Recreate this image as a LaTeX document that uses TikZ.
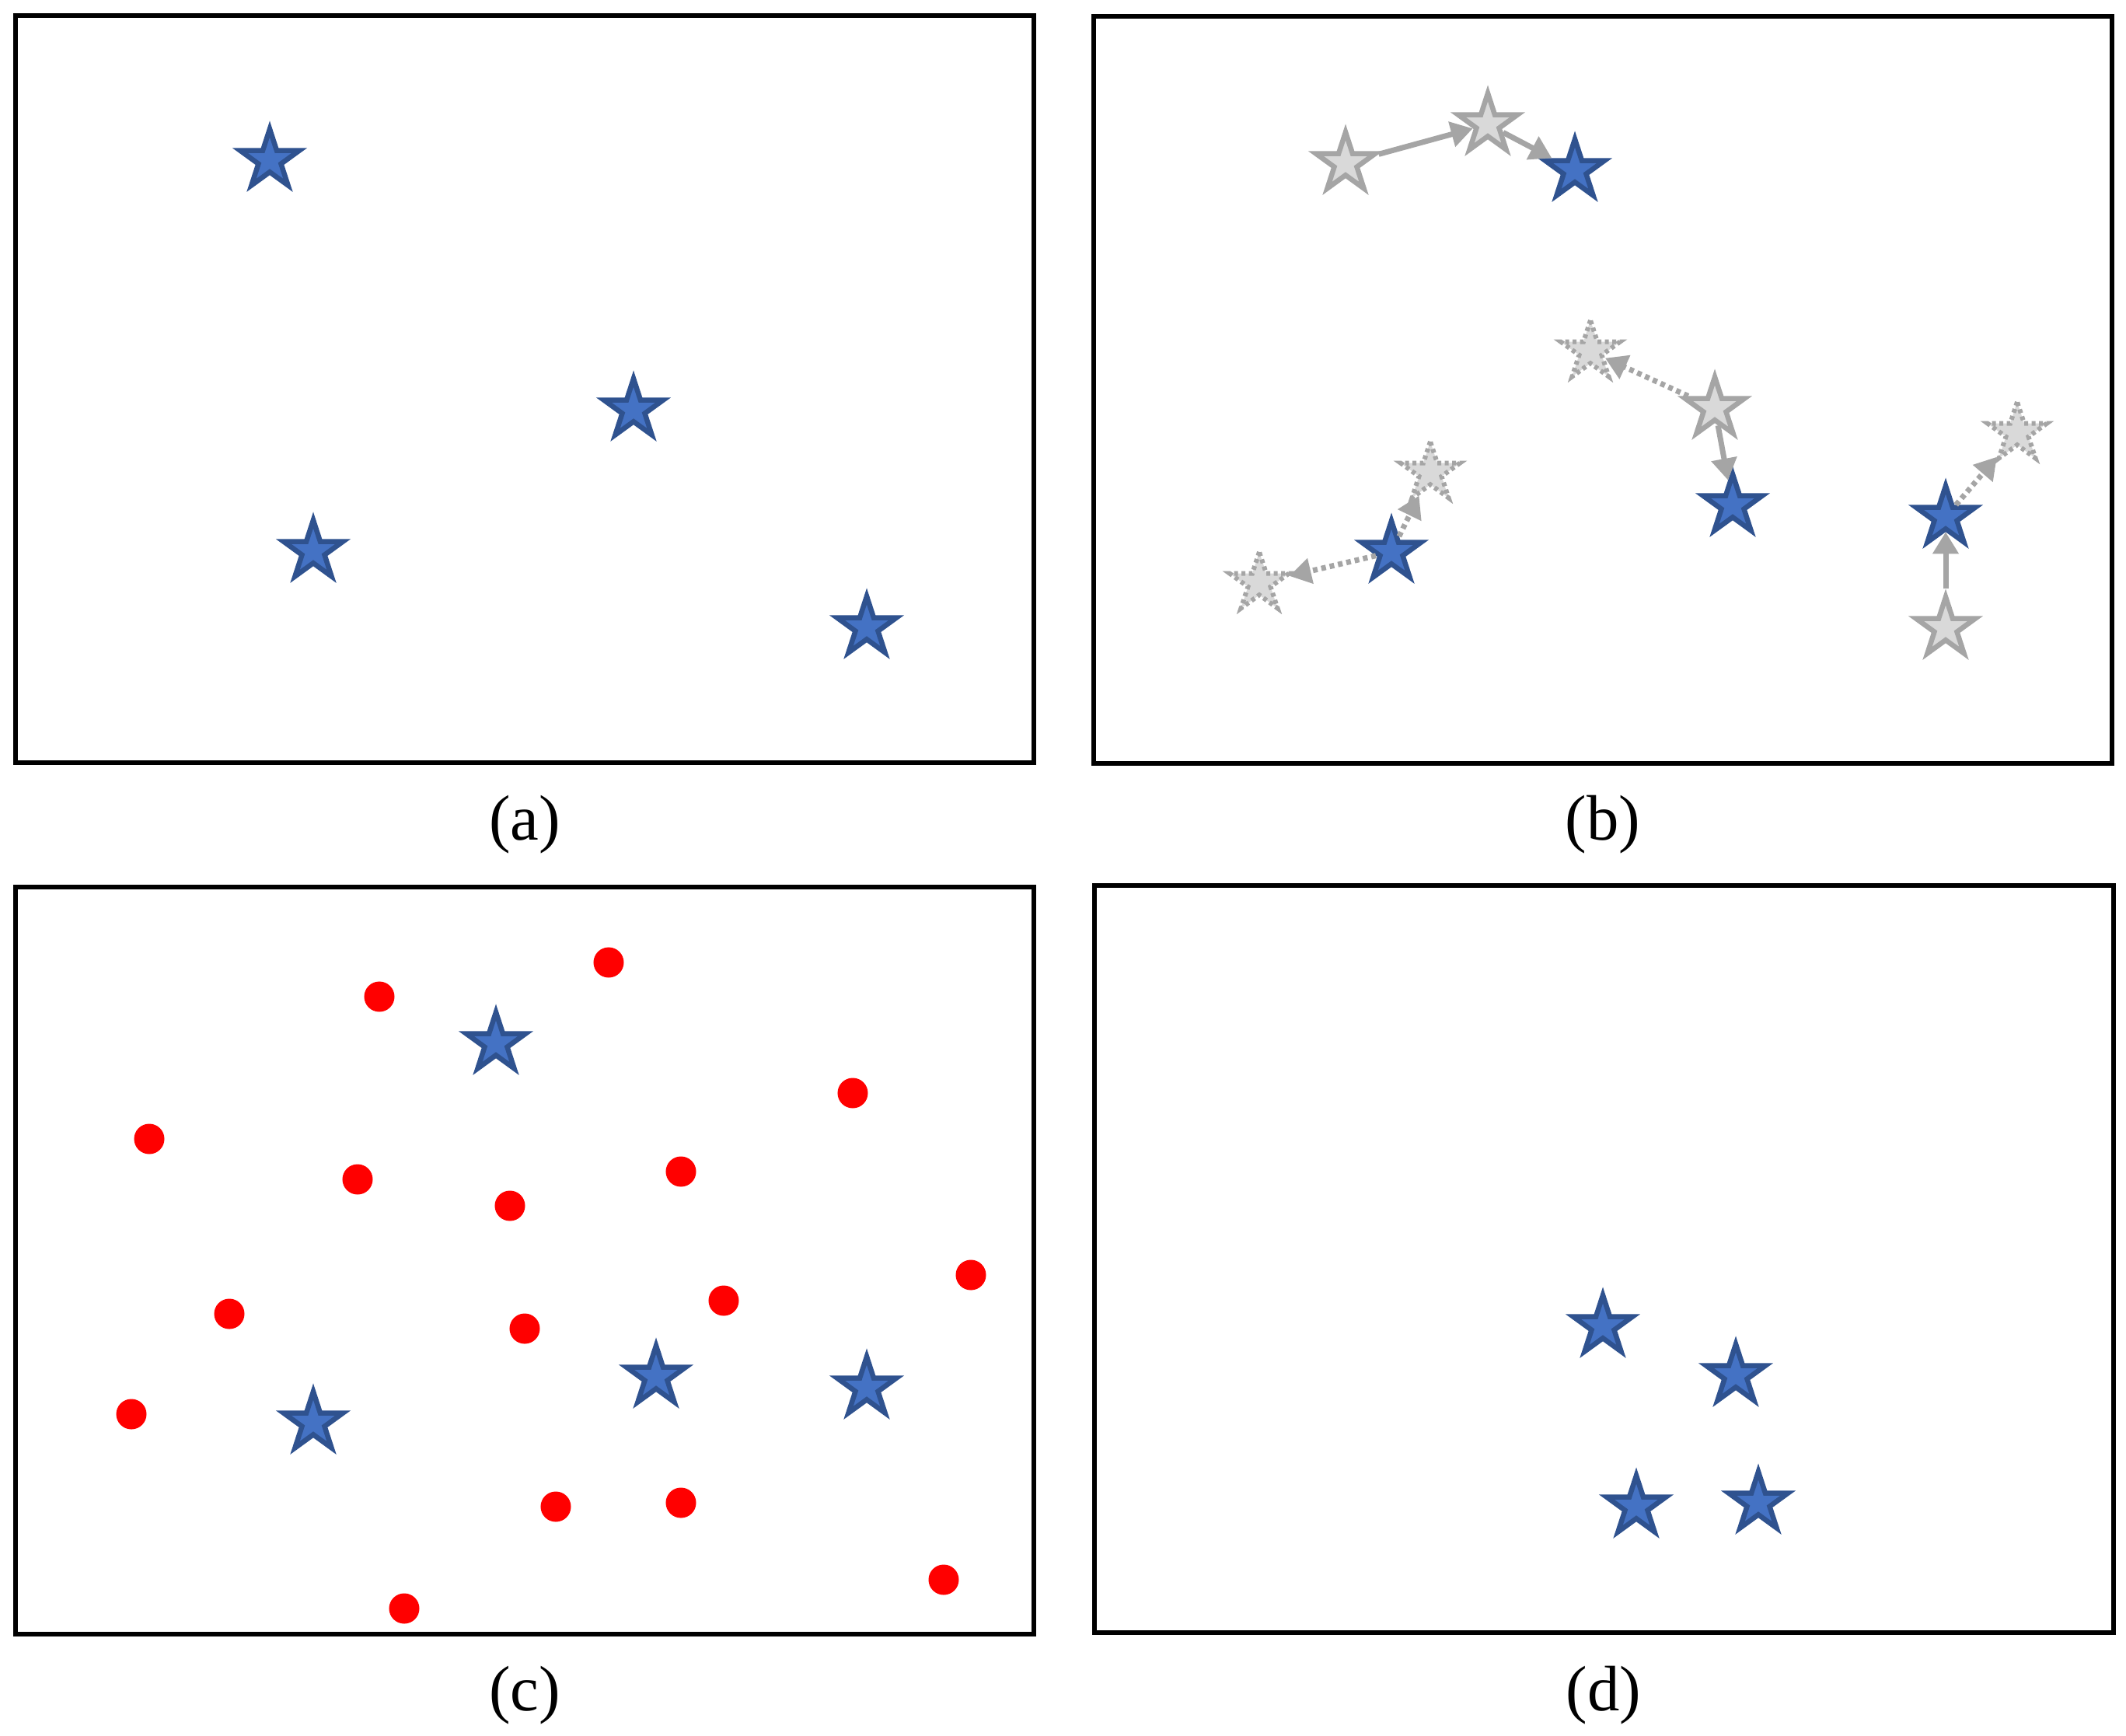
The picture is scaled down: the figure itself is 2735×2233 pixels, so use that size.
\documentclass[tikz,border=0pt]{standalone}
\usepackage{fontspec}
\setmainfont{Liberation Serif}
\usetikzlibrary{shapes.geometric,arrows.meta}
\definecolor{starblue}{HTML}{4472C4}
\definecolor{starblueline}{HTML}{2F528F}
\definecolor{ghostfill}{HTML}{D9D9D9}
\definecolor{ghostline}{HTML}{A5A5A5}
\definecolor{dotred}{HTML}{FF0000}
\begin{document}
\begin{tikzpicture}[x=0.01cm,y=-0.01cm,
  panel/.style={draw=black,line width=0.06cm},
  bstar/.style={star,star points=5,star point ratio=2.618,minimum size=0.8cm,inner sep=0pt,
    fill=starblue,draw=starblueline,line width=0.065cm},
  gstar/.style={bstar,fill=ghostfill,draw=ghostline},
  dstar/.style={gstar,line width=0.06cm,dash pattern=on 0.05cm off 0.045cm},
  rdot/.style={circle,fill=dotred,minimum size=0.39cm,inner sep=0pt},
  move/.style={draw=ghostline,line width=0.07cm,-{Triangle[length=0.28cm,width=0.32cm]}},
  dmove/.style={move,dash pattern=on 0.06cm off 0.05cm},
  lab/.style={font=\fontsize{23.5}{28}\selectfont,anchor=base,inner sep=0pt}]
\useasboundingbox (0,0) rectangle (2735,2233);
\fill[white] (0,0) rectangle (2735,2233);
% panels
\draw[panel] (20,20) rectangle (1330,981);
\draw[panel] (1407,21) rectangle (2717,982);
\draw[panel] (20,1141) rectangle (1330,2102);
\draw[panel] (1408,1139) rectangle (2719,2100);
% labels
\node[lab] (la) at (675,1080) {(a)};
\node[lab] (lb) at (2062,1080) {(b)};
\node[lab] (lc) at (675,2200) {(c)};
\node[lab] (ld) at (2063,2200) {(d)};
% panel (a)
\node[bstar] (a1) at (347,206) {};
\node[bstar] (a2) at (815,527) {};
\node[bstar] (a3) at (403,709) {};
\node[bstar] (a4) at (1115,807) {};
% panel (b)
\node[gstar] (g1) at (1731,210) {};
\node[gstar] (g2) at (1914,160) {};
\node[bstar] (b1) at (2026,219) {};
\node[dstar] (dA) at (2046,452) {};
\node[gstar] (gB) at (2206,525) {};
\node[bstar] (b2) at (2229,650) {};
\node[dstar] (dC) at (1840,608) {};
\node[bstar] (b3) at (1790,710) {};
\node[dstar] (dE) at (1620,750) {};
\node[dstar] (dF) at (2595,557) {};
\node[bstar] (b4) at (2503,665) {};
\node[gstar] (gH) at (2503,808) {};
\draw[move] (g1) -- (g2);
\draw[move] (g2) -- (b1);
\draw[dmove] (gB) -- (dA);
\draw[move] (gB) -- (b2);
\draw[dmove] (b3) -- (dC);
\draw[dmove] (b3) -- (dE);
\draw[move] (gH) -- (b4);
\draw[dmove] (b4) -- (dF);
% panel (c)
\node[rdot] (r1) at (488,1282) {};
\node[rdot] (r2) at (783,1238) {};
\node[rdot] (r3) at (1097,1406) {};
\node[rdot] (r4) at (192,1465) {};
\node[rdot] (r5) at (460,1517) {};
\node[rdot] (r6) at (656,1551) {};
\node[rdot] (r7) at (876,1507) {};
\node[rdot] (r8) at (1249,1640) {};
\node[rdot] (r9) at (295,1690) {};
\node[rdot] (r10) at (931,1673) {};
\node[rdot] (r11) at (675,1709) {};
\node[rdot] (r12) at (169,1819) {};
\node[rdot] (r13) at (715,1938) {};
\node[rdot] (r14) at (876,1933) {};
\node[rdot] (r15) at (1214,2032) {};
\node[rdot] (r16) at (520,2069) {};
\node[bstar] (c1) at (638,1342) {};
\node[bstar] (c2) at (844,1771) {};
\node[bstar] (c3) at (1115,1785) {};
\node[bstar] (c4) at (403,1830) {};
% panel (d)
\node[bstar] (d1) at (2062,1706) {};
\node[bstar] (d2) at (2233,1769) {};
\node[bstar] (d3) at (2105,1938) {};
\node[bstar] (d4) at (2262,1933) {};
\end{tikzpicture}
\end{document}
